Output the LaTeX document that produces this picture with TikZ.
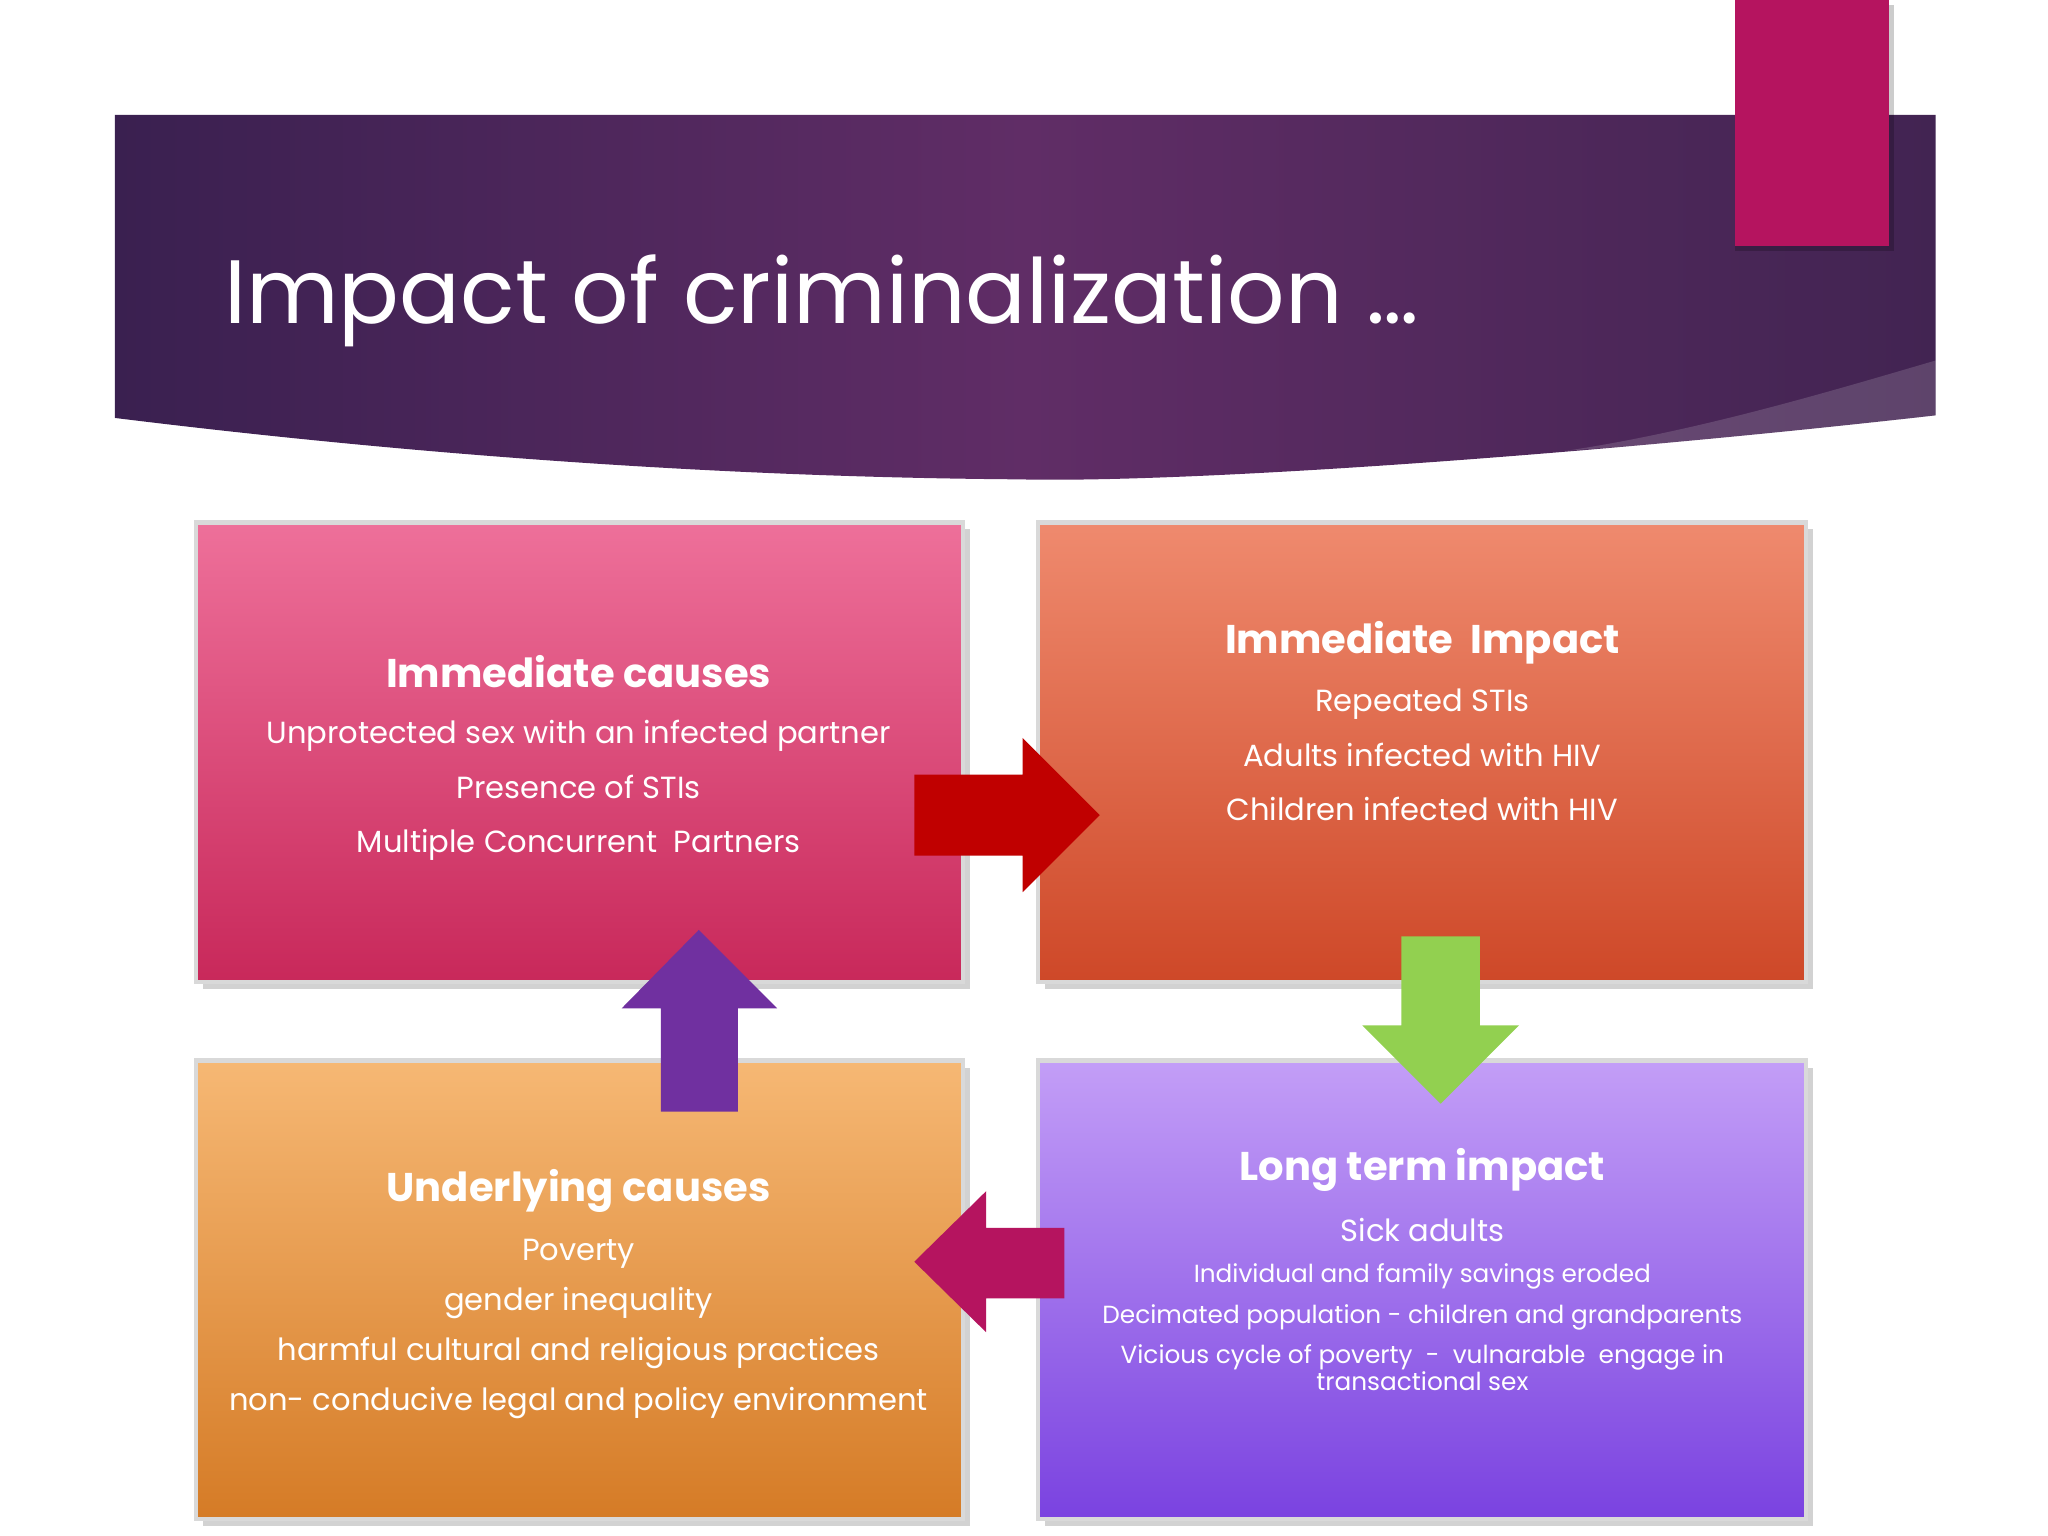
\documentclass[tikz,border=0pt]{standalone}
\usepackage{fontspec}
\setmainfont{Poppins}
\usetikzlibrary{shadows}
\definecolor{hdl}{RGB}{58,32,80}
\definecolor{hdm}{RGB}{96,45,102}
\definecolor{hdr}{RGB}{66,36,82}
\tikzset{
 box/.style={draw=white!70!gray, line width=1.2pt, drop shadow={opacity=0.35,shadow xshift=2pt,shadow yshift=-2pt}},
 head/.style={font=\fontsize{11.4}{14}\selectfont\bfseries, text=white},
 body/.style={font=\fontsize{8.7}{15.5}\selectfont, text=white, align=center},
 smallbody/.style={font=\fontsize{7.05}{11.5}\selectfont, text=white, align=center},
}
\begin{document}
\begin{tikzpicture}[x=0.01306cm,y=-0.01306cm]
\useasboundingbox (0,0) rectangle (1568,1176);
\fill[white] (0,0) rectangle (1568,1176);
% header band
\shade[left color=hdl, right color=hdr, middle color=hdm]
 (88,88) -- (1482,88) -- (1482,318) .. controls (1200,350) and (900,370) .. (780,367) .. controls (500,365) and (250,340) .. (88,320) -- cycle;
\fill[white,opacity=0.15] (1482,276) .. controls (1400,300) and (1300,330) .. (1200,345) .. controls (1350,335) and (1420,325) .. (1482,318) -- cycle;
\fill[black,opacity=0.2] (1328,4) rectangle (1450,192);
\fill[fill={rgb,255:red,181;green,20;blue,95}] (1328,0) rectangle (1446,188);
\node[anchor=base west, text=white, font=\fontsize{25.6}{28}\selectfont] (title) at (162,248) {Impact of criminalization …};
% boxes
\shade[box, top color={rgb,255:red,238;green,112;blue,154}, bottom color={rgb,255:red,200;green,40;blue,90}] (150,400) rectangle (737,752);
\shade[box, top color={rgb,255:red,239;green,138;blue,110}, bottom color={rgb,255:red,206;green,72;blue,40}] (795,400) rectangle (1383,752);
\shade[box, top color={rgb,255:red,246;green,184;blue,116}, bottom color={rgb,255:red,213;green,123;blue,38}] (150,812) rectangle (737,1163);
\shade[box, top color={rgb,255:red,195;green,158;blue,247}, bottom color={rgb,255:red,122;green,66;blue,224}] (795,812) rectangle (1383,1163);
% texts
\node[head] (h1) at (443,514) {Immediate causes};
\node[body,anchor=north] (b1) at (443,542) {Unprotected sex with an infected partner\\Presence of STIs\\Multiple Concurrent~ Partners};
\node[head] (h2) at (1089,492) {Immediate~ Impact};
\node[body,anchor=north] (b2) at (1089,518) {Repeated STIs\\Adults infected with HIV\\Children infected with HIV};
\node[head] (h3) at (443,912) {Underlying causes};
\node[body,anchor=north,font=\fontsize{8.7}{14.3}\selectfont] (b3) at (443,939) {Poverty\\gender inequality\\harmful cultural and religious practices\\non- conducive legal and policy environment};
\node[head] (h4) at (1089,896) {Long term impact};
\node[body,anchor=north] (b4a) at (1089,923) {Sick adults};
\node[smallbody,anchor=north] (b4) at (1089,958) {Individual and family savings eroded\\Decimated population - children and grandparents\\Vicious cycle of poverty~ -~ vulnarable~ engage in};
\node[smallbody,anchor=north] (b4b) at (1089,1041) {transactional sex};
% arrows
\fill[fill={rgb,255:red,192;green,0;blue,0}] (700,593) -- (783,593) -- (783,565) -- (842,624) -- (783,683) -- (783,655) -- (700,655) -- cycle;
\fill[fill={rgb,255:red,146;green,208;blue,80}] (1073,717) -- (1133,717) -- (1133,785) -- (1163,785) -- (1103,845) -- (1043,785) -- (1073,785) -- cycle;
\fill[fill={rgb,255:red,112;green,48;blue,160}] (506,851) -- (506,772) -- (476,772) -- (535,712) -- (595,772) -- (565,772) -- (565,851) -- cycle;
\fill[fill={rgb,255:red,181;green,20;blue,95}] (815,940) -- (755,940) -- (755,912) -- (700,966) -- (755,1020) -- (755,994) -- (815,994) -- cycle;
\end{tikzpicture}
\end{document}
